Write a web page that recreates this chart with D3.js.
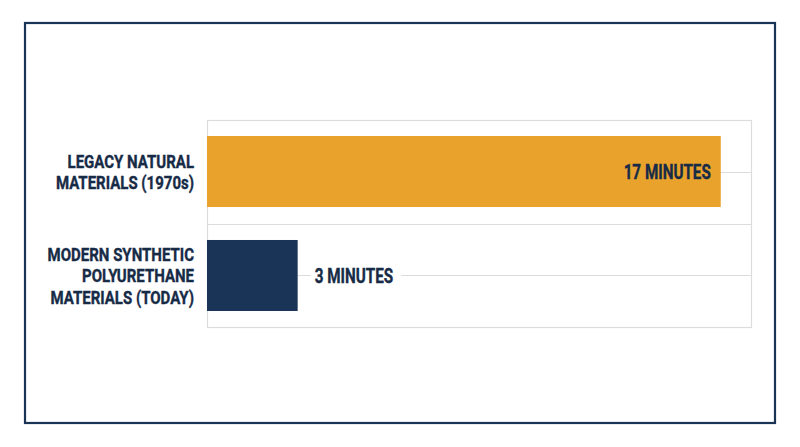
<!DOCTYPE html>
<html>
<head>
<meta charset="utf-8">
<script src="https://cdn.jsdelivr.net/npm/d3@7"></script>
<style>
  html, body { margin: 0; padding: 0; background: #fff; }
  svg text { font-family: "Roboto", "DejaVu Sans", sans-serif; font-weight: 700; }
</style>
</head>
<body>
<div id="chart"></div>
<script>
// chart data
var categories = ['LEGACY NATURAL MATERIALS (1970s)', 'MODERN SYNTHETIC POLYURETHANE MATERIALS (TODAY)'];
var categoryLines = [
	['LEGACY NATURAL', 'MATERIALS (1970s)'],
	['MODERN SYNTHETIC', 'POLYURETHANE', 'MATERIALS (TODAY)']
];
var minutes = [17, 3];
var valueLabels = ['17 MINUTES', '3 MINUTES'];
var xDomain = [0, 18];

var width = 800, height = 447;
var plot = { left: 207, right: 751, top: 120, bottom: 327 };
var navy = '#1a3457';
var orange = '#e9a32c';
var textColor = '#172b47';
var gridColor = '#dcdcdc';
var barColors = [orange, navy];
// condensed look, no narrow font installed
var catSqueeze = 0.79;
var valSqueeze = 0.725;

var svg = d3.select('#chart')
	.append('svg')
		.attr('width', width)
		.attr('height', height);

// outer frame
svg.append('rect')
	.attr('x', 25)
	.attr('y', 23)
	.attr('width', 750)
	.attr('height', 400)
	.attr('fill', 'none')
	.attr('stroke', navy)
	.attr('stroke-width', 2.2);

var x = d3.scaleLinear()
	.domain(xDomain)
	.range([plot.left, plot.right]);

var y = d3.scaleBand()
	.domain(categories)
	.range([plot.top, plot.bottom])
	.paddingInner(0.317)
	.paddingOuter(0.154);

var data = categories.map(function(c, i) {
	return { cat: c, lines: categoryLines[i], value: minutes[i], label: valueLabels[i], color: barColors[i] };
});

// plot box
svg.append('rect')
	.attr('x', plot.left + 0.5)
	.attr('y', plot.top + 0.5)
	.attr('width', plot.right - plot.left)
	.attr('height', plot.bottom - plot.top)
	.attr('fill', 'none')
	.attr('stroke', gridColor)
	.attr('stroke-width', 1.2);

// divider between categories
var step = y.step();
var divY = Math.round(y(categories[0]) + y.bandwidth() + (step - y.bandwidth()) / 2) + 0.5;
svg.append('line')
	.attr('x1', plot.left)
	.attr('x2', plot.right)
	.attr('y1', divY)
	.attr('y2', divY)
	.attr('stroke', gridColor)
	.attr('stroke-width', 1.2);

// center lines through each band
svg.selectAll('.center-line')
	.data(data)
	.enter().append('line')
		.attr('class', 'center-line')
		.attr('x1', plot.left)
		.attr('x2', plot.right)
		.attr('y1', function(d) { return Math.round(y(d.cat) + y.bandwidth() / 2) + 0.5; })
		.attr('y2', function(d) { return Math.round(y(d.cat) + y.bandwidth() / 2) + 0.5; })
		.attr('stroke', gridColor)
		.attr('stroke-width', 1);

// bars
svg.selectAll('.bar')
	.data(data)
	.enter().append('rect')
		.attr('class', 'bar')
		.attr('x', x(0))
		.attr('y', function(d) { return y(d.cat); })
		.attr('width', function(d) { return x(d.value) - x(0); })
		.attr('height', y.bandwidth())
		.attr('fill', function(d) { return d.color; });

// value labels: inside the long bar, outside the short one
data.forEach(function(d) {
	var inside = (x(d.value) - x(0)) > 200;
	var cy = y(d.cat) + y.bandwidth() / 2;
	var ax = inside ? x(d.value) - 10 : x(d.value) + 17;
	var g = svg.append('g');
	var t = g.append('g')
		.attr('transform', 'translate(' + ax + ',0) scale(' + valSqueeze + ',1)')
		.append('text')
			.attr('x', 0)
			.attr('y', cy)
			.attr('dy', '0.36em')
			.attr('text-anchor', inside ? 'end' : 'start')
			.attr('font-size', 21)
			.attr('fill', textColor)
			.attr('stroke', textColor)
			.attr('stroke-width', 0.4)
			.text(d.label);
	if (!inside) {
		var w = t.node().getComputedTextLength() * valSqueeze;
		g.insert('rect', 'g')
			.attr('x', ax - 4)
			.attr('y', cy - 3)
			.attr('width', w + 12)
			.attr('height', 6)
			.attr('fill', '#fff');
	}
});

// category labels
var lineHeight = 21.5;
svg.selectAll('.cat-label')
	.data(data)
	.enter().append('g')
		.attr('transform', 'translate(194,0) scale(' + catSqueeze + ',1)')
	.append('text')
		.attr('class', 'cat-label')
		.attr('text-anchor', 'end')
		.attr('font-size', 19)
		.attr('fill', textColor)
		.attr('stroke', textColor)
		.attr('stroke-width', 0.4)
		.each(function(d) {
			var cy = y(d.cat) + y.bandwidth() / 2;
			var first = cy - (d.lines.length - 1) * lineHeight / 2;
			d3.select(this).selectAll('tspan')
				.data(d.lines)
				.enter().append('tspan')
					.attr('x', 0)
					.attr('y', function(l, i) { return first + i * lineHeight; })
					.attr('dy', '0.36em')
					.text(function(l) { return l; });
		});
</script>
</body>
</html>
